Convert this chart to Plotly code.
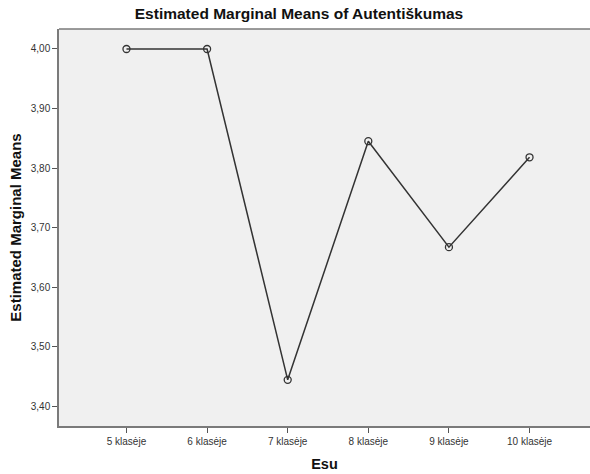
import plotly.graph_objects as go

# Estimated marginal means of "Autentiškumas" by grade
categories = ["5 klasėje", "6 klasėje", "7 klasėje", "8 klasėje", "9 klasėje", "10 klasėje"]
means = [4.000, 4.000, 3.444, 3.845, 3.667, 3.818]
y_ticks = [3.40, 3.50, 3.60, 3.70, 3.80, 3.90, 4.00]
y_tick_labels = ["3,40", "3,50", "3,60", "3,70", "3,80", "3,90", "4,00"]

x_pos = list(range(len(categories)))

fig = go.Figure()
fig.add_trace(go.Scatter(
    x=x_pos, y=means,
    mode="lines+markers",
    line=dict(color="#333333", width=1.5),
    marker=dict(symbol="circle-open", size=7, color="#333333", line=dict(width=1.3)),
    hoverinfo="skip",
))

font_family = "Liberation Sans, Arial, sans-serif"
frame_color = "#7a7a7a"

fig.update_layout(
    width=590, height=474,
    margin=dict(l=59, r=0, t=29, b=48),
    paper_bgcolor="white",
    plot_bgcolor="#f0f0f0",
    showlegend=False,
    font=dict(family=font_family, color="#222222"),
    title=dict(
        text="<b>Estimated Marginal Means of Autentiškumas</b>",
        x=299 / 590, xanchor="center", xref="container",
        y=1 - 14 / 474, yanchor="middle", yref="container",
        font=dict(size=15.5, color="#111111"),
    ),
    xaxis=dict(
        range=[-0.837, 5.75],
        tickvals=x_pos, ticktext=categories,
        ticks="outside", ticklen=5, tickcolor="#555555", tickwidth=1,
        showline=True, linecolor=frame_color, linewidth=1.5,
        showgrid=False, zeroline=False,
        tickfont=dict(size=10, color="#333333"),
        title=dict(text="<b>Esu</b>", font=dict(size=14.5, color="#111111"), standoff=13),
    ),
    yaxis=dict(
        range=[3.3664, 4.0336],
        tickvals=y_ticks, ticktext=y_tick_labels,
        ticks="outside", ticklen=5, tickcolor="#555555", tickwidth=1,
        showline=True, linecolor=frame_color, linewidth=1.5,
        showgrid=False, zeroline=False,
        tickfont=dict(size=10, color="#333333"),
        title=dict(text="<b>Estimated Marginal Means</b>", font=dict(size=15, color="#111111"), standoff=6),
    ),
)

# top edge of the plot frame (no right edge)
fig.add_shape(type="line", xref="paper", yref="paper", x0=0, x1=1, y0=1, y1=1,
              line=dict(color=frame_color, width=1.5))

fig.write_html("out.html")
